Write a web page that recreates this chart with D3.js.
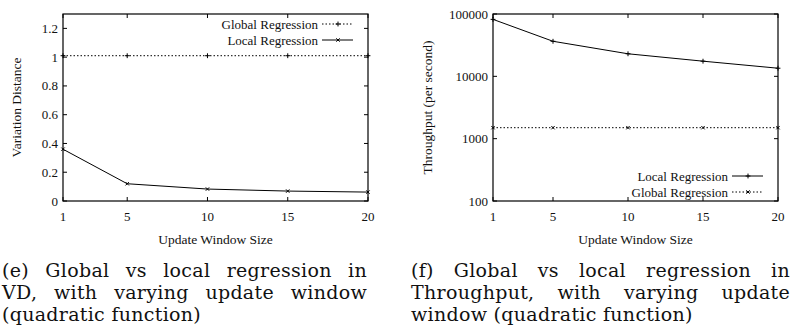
<!DOCTYPE html>
<html>
<head>
<meta charset="utf-8">
<script src="https://cdn.jsdelivr.net/npm/d3@7"></script>
<style>
  body { margin: 0; background: #fff; }
  svg { display: block; }
</style>
</head>
<body>
<svg width="810" height="330"></svg>
<script>

var windowSizes = [1, 5, 10, 15, 20];
var vdGlobal = [1.01, 1.01, 1.01, 1.01, 1.01];
var vdLocal = [0.36, 0.12, 0.083, 0.069, 0.062];
var vdTicks = [0, 0.2, 0.4, 0.6, 0.8, 1, 1.2];
var tpLocal = [82000, 36500, 23000, 17500, 13500];
var tpGlobal = [1500, 1500, 1500, 1500, 1500];
var tpTicks = [100, 1000, 10000, 100000];

var captionE = ["(e) Global vs local regression in", "VD, with varying update window", "(quadratic function)"];
var captionF = ["(f) Global vs local regression in", "Throughput, with varying update", "window (quadratic function)"];

var serif = "'Liberation Serif', 'Times New Roman', Times, serif";
var capFont = "'DejaVu Serif', serif";

var svg = d3.select("svg");

function series(xs, ys) {
  return xs.map(function(d, i) { return {x: d, y: ys[i]}; });
}

function drawPanel(p) {
  var g = svg.append("g").attr("font-family", serif).attr("fill", "#111");
  var x = d3.scaleLinear().domain([1, 20]).range([p.left, p.right]);
  var y = p.y.range([p.bottom, p.top]);

  // mirrored inward ticks, gnuplot style
  var tl = 4;
  p.yTicks.forEach(function(t) {
    g.append("line").attr("x1", p.left).attr("x2", p.left + tl)
      .attr("y1", y(t)).attr("y2", y(t)).attr("stroke", "#000");
    g.append("line").attr("x1", p.right).attr("x2", p.right - tl)
      .attr("y1", y(t)).attr("y2", y(t)).attr("stroke", "#000");
    g.append("text")
      .attr("x", p.left - 5).attr("y", y(t)).attr("dy", "0.35em")
      .attr("text-anchor", "end").attr("font-size", 13)
      .text(t);
  });
  windowSizes.forEach(function(t) {
    g.append("line").attr("x1", x(t)).attr("x2", x(t))
      .attr("y1", p.bottom).attr("y2", p.bottom - tl).attr("stroke", "#000");
    g.append("line").attr("x1", x(t)).attr("x2", x(t))
      .attr("y1", p.top).attr("y2", p.top + tl).attr("stroke", "#000");
    g.append("text")
      .attr("x", x(t)).attr("y", p.bottom + 20)
      .attr("text-anchor", "middle").attr("font-size", 13)
      .text(t);
  });

  g.append("rect")
    .attr("x", p.left).attr("y", p.top)
    .attr("width", p.right - p.left).attr("height", p.bottom - p.top)
    .attr("fill", "none").attr("stroke", "#000").attr("stroke-width", 1.2);

  g.append("text")
    .attr("x", (p.left + p.right) / 2).attr("y", p.bottom + 43)
    .attr("text-anchor", "middle").attr("font-size", 13.5)
    .text("Update Window Size");

  g.append("text")
    .attr("transform", "translate(" + p.yTitleX + "," + ((p.top + p.bottom) / 2) + ") rotate(-90)")
    .attr("text-anchor", "middle").attr("font-size", 13.5)
    .text(p.yTitle);

  var line = d3.line().x(function(d) { return x(d.x); }).y(function(d) { return y(d.y); });

  p.series.forEach(function(s, i) {
    g.append("path").datum(s.data)
      .attr("fill", "none").attr("stroke", "#000").attr("stroke-width", 1)
      .attr("stroke-dasharray", s.dash)
      .attr("d", line);
    g.selectAll(null).data(s.data).enter().append("path")
      .attr("transform", function(d) { return "translate(" + x(d.x) + "," + y(d.y) + ")"; })
      .attr("d", d3.symbol().type(s.symbol).size(9))
      .attr("fill", "none").attr("stroke", "#000").attr("stroke-width", 1);

    var ly = p.legendY + i * 16;
    g.append("text")
      .attr("x", p.legendX).attr("y", ly).attr("dy", "0.35em")
      .attr("text-anchor", "end").attr("font-size", 13)
      .text(s.name);
    g.append("line")
      .attr("x1", p.legendX + 4).attr("x2", p.legendX + 35)
      .attr("y1", ly).attr("y2", ly)
      .attr("stroke", "#000").attr("stroke-dasharray", s.dash);
    g.append("path")
      .attr("transform", "translate(" + (p.legendX + 20) + "," + ly + ")")
      .attr("d", d3.symbol().type(s.symbol).size(9))
      .attr("fill", "none").attr("stroke", "#000");
  });
}

drawPanel({
  left: 63, right: 368, top: 14, bottom: 201,
  y: d3.scaleLinear().domain([0, 1.3]),
  yTicks: vdTicks,
  yTitle: "Variation Distance", yTitleX: 21,
  legendX: 318, legendY: 24,
  series: [
    {name: "Global Regression", data: series(windowSizes, vdGlobal), dash: "1.5,2", symbol: d3.symbolPlus},
    {name: "Local Regression", data: series(windowSizes, vdLocal), dash: null, symbol: d3.symbolX}
  ]
});

drawPanel({
  left: 493, right: 778, top: 14, bottom: 201,
  y: d3.scaleLog().domain([100, 100000]),
  yTicks: tpTicks,
  yTitle: "Throughput (per second)", yTitleX: 432,
  legendX: 728, legendY: 176,
  series: [
    {name: "Local Regression", data: series(windowSizes, tpLocal), dash: null, symbol: d3.symbolPlus},
    {name: "Global Regression", data: series(windowSizes, tpGlobal), dash: "1.5,2", symbol: d3.symbolX}
  ]
});

// justified captions; last line keeps natural spacing
function caption(lines, x0, x1, y0) {
  lines.forEach(function(txt, i) {
    var t = svg.append("text")
      .attr("font-family", capFont).attr("fill", "#111")
      .attr("x", x0).attr("y", y0 + i * 22)
      .attr("font-size", 19)
      .attr("letter-spacing", 0.3)
      .text(txt);
    if (i < lines.length - 1) {
      var w = t.node().getComputedTextLength();
      var gaps = txt.split(" ").length - 1;
      t.attr("word-spacing", Math.max(0, (x1 - x0 - w) / gaps));
    }
  });
}
caption(captionE, 2, 367, 277);
caption(captionF, 411, 790, 277);

</script>
</body>
</html>
